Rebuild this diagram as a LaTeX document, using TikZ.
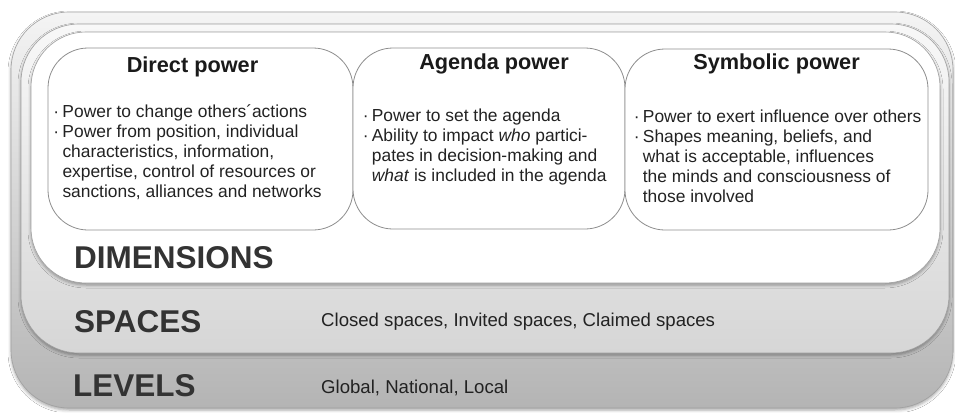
\documentclass[tikz,border=0pt]{standalone}
\usepackage{fontspec}
\setmainfont{Liberation Sans}
\usetikzlibrary{shadows.blur}
\definecolor{edgegray}{HTML}{A0A0A0}
\definecolor{boxgray}{HTML}{8E8E8E}
\definecolor{lvtop}{HTML}{F4F4F4}
\definecolor{lvmid}{HTML}{D6D6D6}
\definecolor{lvbot}{HTML}{B4B4B4}
\definecolor{sptop}{HTML}{F8F8F8}
\definecolor{spbot}{HTML}{D6D6D6}
\definecolor{titlecol}{HTML}{1A1A1A}
\definecolor{bodycol}{HTML}{222222}
\definecolor{labelcol}{HTML}{333333}
\begin{document}
\begin{tikzpicture}[x=1pt,y=-1pt,
  layer/.style={draw=edgegray, line width=0.6pt, inner sep=0pt, outer sep=0pt,
    anchor=north west, rectangle,
    blur shadow={shadow xshift=0pt, shadow yshift=-2pt, shadow blur radius=3pt, shadow opacity=35}},
  powerbox/.style={draw=boxgray, line width=0.8pt, fill=white, rounded corners=40pt,
    inner sep=0pt, outer sep=0pt, anchor=north west, rectangle},
  title/.style={font=\fontsize{21.7}{26}\selectfont\bfseries, text=titlecol, anchor=base, inner sep=0pt},
  body/.style={font=\fontsize{17.4}{20}\selectfont, text=bodycol, anchor=base west, inner sep=0pt},
  biglabel/.style={font=\fontsize{31.5}{36}\selectfont\bfseries, text=labelcol, anchor=base west, inner sep=0pt},
  smalllabel/.style={font=\fontsize{18.6}{22}\selectfont, text=bodycol, anchor=base west, inner sep=0pt}]
\useasboundingbox (0,0) rectangle (955,412);
\fill[white] (0,0) rectangle (955,412);

% layers
\node[layer, rounded corners=58pt, minimum width=942pt, minimum height=396pt,
  top color=lvtop, middle color=lvmid, bottom color=lvbot] (levels) at (11,12) {};
\node[layer, rounded corners=58pt, minimum width=928pt, minimum height=329pt,
  top color=sptop, bottom color=spbot] (spaces) at (21,24) {};
\node[layer, rounded corners=55pt, minimum width=909pt, minimum height=251pt,
  fill=white] (dims) at (31,32) {};

% power boxes
\node[powerbox, minimum width=305pt, minimum height=182pt] (direct) at (48,48) {};
\node[powerbox, minimum width=272pt, minimum height=181pt] (agenda) at (353,48) {};
\node[powerbox, minimum width=303pt, minimum height=181pt] (symbolic) at (625,49) {};

% titles
\node[title] (dtitle) at (192.5,73) {Direct power};
\node[title] (atitle) at (494,70) {Agenda power};
\node[title] (stitle) at (776.5,70) {Symbolic power};

% body texts
\node[body] (dtext) at (62.3,117) {\begin{tabular}[t]{@{}l@{}}
\llap{·\hspace{3.3pt}}Power to change others´actions\\
\llap{·\hspace{3.3pt}}Power from position, individual\\
characteristics, information,\\
expertise, control of resources or\\
sanctions, alliances and networks
\end{tabular}};
\node[body] (atext) at (371.7,121) {\begin{tabular}[t]{@{}l@{}}
\llap{·\hspace{3.3pt}}Power to set the agenda\\
\llap{·\hspace{3.3pt}}Ability to impact \textit{who} partici-\\
pates in decision-making and\\
\textit{what} is included in the agenda
\end{tabular}};
\node[body] (stext) at (642.7,122) {\begin{tabular}[t]{@{}l@{}}
\llap{·\hspace{3.3pt}}Power to exert influence over others\\
\llap{·\hspace{3.3pt}}Shapes meaning, beliefs, and\\
what is acceptable, influences\\
the minds and consciousness of\\
those involved
\end{tabular}};

% layer labels
\node[biglabel] (dimlabel) at (74,268) {DIMENSIONS};
\node[biglabel] (splabel) at (74,332) {SPACES};
\node[biglabel] (lvlabel) at (73,396) {LEVELS};
\node[smalllabel] (sptext) at (321,326) {Closed spaces, Invited spaces, Claimed spaces};
\node[smalllabel] (lvtext) at (321,393) {Global, National, Local};
\end{tikzpicture}
\end{document}
